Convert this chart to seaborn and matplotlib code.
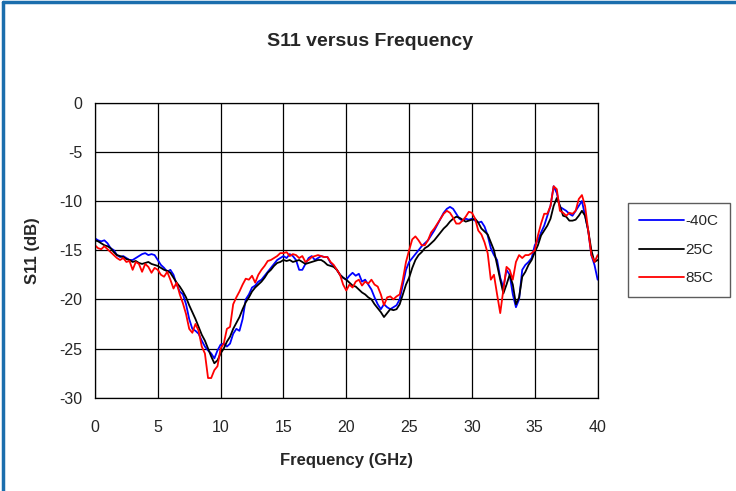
import numpy as np
import pandas as pd
import matplotlib.pyplot as plt
from matplotlib.lines import Line2D
import seaborn as sns

# frequency sweep, 0.25 GHz steps
freq_ghz = np.linspace(0, 40, 161)

s11_m40c = [
    -13.8, -14.0, -14.1, -14.0,  -14.3, -14.8, -15.0, -15.5,
    -15.7, -15.6, -15.8, -16.0,  -16.0, -15.8, -15.6, -15.4,
    -15.3, -15.5, -15.4, -15.5,  -16.0, -16.5, -16.8, -17.2,
    -17.0, -17.5, -18.5, -19.2,  -19.5, -20.5, -22.0, -23.0,
    -23.2, -23.5, -24.2, -24.8,  -25.2, -25.5, -26.0, -25.2,
    -24.6, -24.5, -24.8, -24.5,  -23.5, -23.0, -23.2, -22.0,
    -20.0, -19.5, -18.8, -18.6,  -18.2, -18.0, -17.6, -17.2,
    -16.8, -16.4, -16.0, -15.8,  -15.6, -15.8, -15.4, -15.6,
    -16.0, -17.0, -17.0, -16.4,  -15.8, -15.6, -16.0, -15.8,
    -15.6, -15.7, -15.7, -16.3,  -16.6, -17.0, -17.5, -17.8,
    -18.0, -17.6, -17.3, -17.6,  -17.4, -18.2, -18.0, -18.5,
    -19.0, -19.8, -20.5, -21.0,  -20.5, -20.8, -21.0, -20.8,
    -20.6, -20.0, -18.5, -17.0,  -16.2, -15.8, -15.4, -15.0,
    -14.6, -14.3, -14.0, -13.5,  -13.0, -12.4, -11.8, -11.2,
    -10.8, -10.6, -10.8, -11.3,  -11.8, -12.0, -11.8, -11.9,
    -11.8, -12.0, -12.2, -12.1,  -12.6, -13.5, -14.8, -15.5,
    -16.0, -17.8, -18.8, -17.0,  -17.5, -19.5, -20.8, -20.0,
    -17.0, -16.5, -16.2, -15.8,  -14.5, -14.0, -13.2, -12.5,
    -11.5, -10.5, -8.5, -9.2,    -10.6, -10.8, -11.0, -11.3,
    -11.5, -11.0, -10.5, -10.0,  -11.5, -13.0, -15.5, -16.5,
    -18.0,
]

s11_25c = [
    -14.0, -14.1, -14.3, -14.5,  -14.6, -14.8, -15.2, -15.5,
    -15.6, -15.7, -15.9, -16.0,  -16.2, -16.1, -16.3, -16.4,
    -16.3, -16.2, -16.4, -16.5,  -16.6, -16.8, -17.0, -17.1,
    -17.3, -17.8, -18.3, -18.7,  -19.2, -19.8, -20.6, -21.3,
    -22.0, -22.8, -23.6, -24.2,  -25.0, -25.8, -26.5, -26.2,
    -25.5, -25.0, -24.3, -23.8,  -23.0, -22.4, -21.8, -21.0,
    -20.3, -19.8, -19.2, -18.8,  -18.5, -18.2, -17.8, -17.3,
    -17.0, -16.6, -16.3, -16.2,  -16.0, -16.1, -16.0, -16.2,
    -16.1, -16.0, -16.2, -16.4,  -16.3, -16.2, -16.1, -16.0,
    -16.0, -16.2, -16.5, -16.6,  -16.7, -17.0, -17.5, -17.8,
    -18.0, -18.3, -18.6, -18.7,  -19.0, -19.3, -19.5, -19.8,
    -20.0, -20.5, -20.9, -21.3,  -21.8, -21.4, -21.0, -21.1,
    -21.0, -20.5, -19.5, -18.5,  -17.8, -16.8, -16.0, -15.5,
    -15.2, -14.8, -14.6, -14.3,  -14.0, -13.6, -13.2, -12.8,
    -12.5, -12.1, -11.8, -11.6,  -11.7, -11.9, -12.1, -12.0,
    -11.9, -11.8, -12.2, -12.8,  -13.1, -13.4, -14.2, -15.0,
    -16.5, -18.0, -19.4, -18.5,  -17.5, -18.5, -20.5, -19.8,
    -17.7, -17.2, -16.5, -16.0,  -15.2, -14.5, -13.5, -13.0,
    -12.5, -11.8, -10.5, -9.7,   -10.5, -11.5, -11.6, -12.0,
    -12.0, -11.9, -11.5, -11.0,  -11.5, -13.0, -15.0, -16.2,
    -16.0,
]

s11_85c = [
    -14.5, -14.8, -14.9, -14.6,  -14.9, -15.2, -15.5, -15.8,
    -16.0, -15.8, -16.2, -16.1,  -17.0, -16.2, -16.4, -17.2,
    -16.4, -16.7, -17.3, -16.8,  -17.0, -17.5, -17.7, -17.2,
    -18.0, -18.9, -18.3, -19.5,  -20.4, -21.5, -23.0, -23.4,
    -22.5, -23.2, -24.8, -25.5,  -28.0, -28.0, -27.2, -26.8,
    -25.0, -24.5, -23.0, -22.8,  -20.5, -19.8, -19.2, -18.5,
    -17.9, -18.0, -17.6, -18.3,  -17.5, -17.0, -16.6, -16.1,
    -16.0, -15.8, -15.6, -15.3,  -15.3, -15.2, -15.6, -15.4,
    -15.5, -15.8, -15.6, -16.2,  -16.0, -15.7, -15.6, -15.5,
    -15.6, -15.7, -15.7, -16.2,  -16.5, -17.0, -17.5, -18.5,
    -19.1, -18.5, -18.8, -18.2,  -18.0, -18.6, -18.2, -18.4,
    -18.0, -18.5, -18.7, -19.5,  -20.6, -19.8, -19.7, -20.0,
    -19.7, -19.5, -18.0, -16.2,  -15.0, -13.9, -13.6, -14.0,
    -14.5, -14.5, -14.0, -13.2,  -12.8, -12.3, -11.8, -11.3,
    -11.0, -11.2, -11.7, -12.3,  -12.3, -12.0, -11.6, -11.1,
    -11.2, -11.8, -13.0, -13.4,  -14.2, -15.3, -18.0, -17.5,
    -19.5, -21.4, -19.0, -16.7,  -17.0, -18.0, -16.2, -15.5,
    -15.8, -15.5, -15.5, -15.3,  -15.0, -13.5, -12.3, -11.3,
    -11.3, -10.5, -8.5, -8.8,    -11.0, -11.2, -11.5, -11.2,
    -11.3, -11.0, -9.8, -9.4,    -10.5, -13.0, -15.5, -16.2,
    -15.5,
]

series = [("-40C", s11_m40c, "#0000FF"),
          ("25C", s11_25c, "#000000"),
          ("85C", s11_85c, "#FF0000")]

sns.set_style("white")
plt.rcParams["font.family"] = ["Liberation Sans", "DejaVu Sans"]
plt.rcParams["axes.unicode_minus"] = False

fig = plt.figure(figsize=(7.36, 4.91), dpi=100)
ax = fig.add_axes([0.129, 0.190, 0.683, 0.601])

for label, vals, color in series:
    df = pd.DataFrame({"freq": freq_ghz, "s11": vals})
    sns.lineplot(data=df, x="freq", y="s11", ax=ax, color=color,
                 linewidth=1.3, label=label, estimator=None, sort=False)

ax.set_xlim(0, 40)
ax.set_ylim(-30, 0)
ax.set_xticks(range(0, 41, 5))
ax.set_yticks(range(-30, 1, 5))
ax.grid(True, color="black", linewidth=0.9)
for sp in ax.spines.values():
    sp.set_color("black")
    sp.set_linewidth(0.9)
ax.tick_params(axis="both", direction="out", length=5, width=0.9,
               color="black", labelsize=11.5, pad=4)
ax.tick_params(axis="x", pad=11)
ax.set_xlabel("Frequency (GHz)", fontsize=12, fontweight="bold", labelpad=13)
ax.set_ylabel("S11 (dB)", fontsize=12, fontweight="bold", labelpad=14)

handles, labels = ax.get_legend_handles_labels()
ax.get_legend().remove()
fig.legend(handles, labels, loc="upper left",
           bbox_to_anchor=(628 / 736, 1 - 203 / 491),
           fontsize=11, frameon=True, fancybox=False, edgecolor="#333333",
           handlelength=2.9, handletextpad=0.1, labelspacing=0.95,
           borderpad=0.75, borderaxespad=0)

fig.text(0.503, 0.916, "S11 versus Frequency", ha="center", va="center",
         fontsize=14, fontweight="bold")

# blue page frame (top and left edges)
frame_blue = "#1B6EAD"
fig.add_artist(Line2D([0.004, 1.0], [0.995, 0.995], color=frame_blue,
                      linewidth=2.5, transform=fig.transFigure))
fig.add_artist(Line2D([0.004, 0.004], [0.0, 0.995], color=frame_blue,
                      linewidth=2.5, transform=fig.transFigure))

fig.savefig("out.png", dpi=100)
